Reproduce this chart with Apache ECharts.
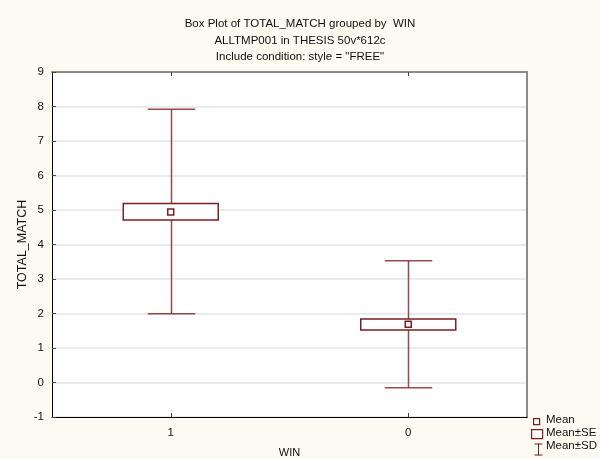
<!DOCTYPE html>
<html>
<head>
<meta charset="utf-8">
<script src="https://cdn.jsdelivr.net/npm/echarts@6/dist/echarts.min.js"></script>
<style>
  html, body { margin: 0; padding: 0; background: #fdfaf1; }
  #chart { width: 600px; height: 459px; }
</style>
</head>
<body>
<div id="chart"></div>
<script>
// Groups of WIN and the summary statistics of TOTAL_MATCH per group
const categories = ['1', '0'];
const means   = [4.94, 1.69];
const seLow   = [4.71, 1.52];
const seHigh  = [5.19, 1.84];
const sdLow   = [1.99, -0.15];
const sdHigh  = [7.92, 3.53];
const yTicks  = [-1, 0, 1, 2, 3, 4, 5, 6, 7, 8, 9];

const MAROON = '#7a1f22';
const FONT = 'Liberation Sans, Arial, sans-serif';

const chart = echarts.init(document.getElementById('chart'), null, { renderer: 'canvas' });

// Mean±SD whiskers with caps
function renderSD(params, api) {
  const i = api.value(0);
  const lo = api.coord([i, api.value(1)]);
  const hi = api.coord([i, api.value(2)]);
  const band = api.size([1, 0])[0];
  const cap = band * 0.2;
  const x = Math.round(lo[0]) + 0.5;
  return {
    type: 'group',
    children: [
      { type: 'line', shape: { x1: x, y1: hi[1], x2: x, y2: lo[1] },
        style: { stroke: MAROON, lineWidth: 1.5, opacity: 0.8 } },
      { type: 'line', shape: { x1: x - cap / 2, y1: hi[1], x2: x + cap / 2, y2: hi[1] },
        style: { stroke: MAROON, lineWidth: 1.5, opacity: 0.8 } },
      { type: 'line', shape: { x1: x - cap / 2, y1: lo[1], x2: x + cap / 2, y2: lo[1] },
        style: { stroke: MAROON, lineWidth: 1.5, opacity: 0.8 } }
    ]
  };
}

// Mean±SE boxes
function renderSE(params, api) {
  const i = api.value(0);
  const lo = api.coord([i, api.value(1)]);
  const hi = api.coord([i, api.value(2)]);
  const band = api.size([1, 0])[0];
  const w = band * 0.4;
  return {
    type: 'rect',
    shape: { x: lo[0] - w / 2, y: hi[1], width: w, height: lo[1] - hi[1] },
    style: { fill: '#ffffff', stroke: MAROON, lineWidth: 1.5 }
  };
}

// Mean markers
function renderMean(params, api) {
  const i = api.value(0);
  const p = api.coord([i, api.value(1)]);
  const s = 6;
  return {
    type: 'rect',
    shape: { x: p[0] - s / 2, y: p[1] - s / 2, width: s, height: s },
    style: { fill: '#ffffff', stroke: MAROON, lineWidth: 1.5 }
  };
}

const grid = { left: 52, right: 73, top: 72, bottom: 42 };

chart.setOption({
  backgroundColor: '#fdfaf1',
  animation: false,
  title: {
    text: 'Box Plot of TOTAL_MATCH grouped by  WIN\nALLTMP001 in THESIS 50v*612c\nInclude condition: style = "FREE"',
    left: 'center',
    top: 11,
    textStyle: { fontFamily: FONT, fontSize: 11.5, fontWeight: 'normal', color: '#111', lineHeight: 16.5 }
  },
  grid: Object.assign({
    backgroundColor: '#ffffff', show: true, borderWidth: 0,
    containLabel: false, outerBoundsMode: 'none'
  }, grid),
  xAxis: [{
    type: 'category',
    data: categories,
    position: 'bottom',
    name: 'WIN',
    nameLocation: 'middle',
    nameGap: 30,
    nameMoveOverlap: false,
    nameTextStyle: { fontFamily: FONT, fontSize: 11, color: '#111' },
    axisLine: { show: true, onZero: false, lineStyle: { color: '#000', width: 1 } },
    axisTick: { show: true, inside: true, alignWithLabel: true, length: 4, lineStyle: { color: '#444' } },
    axisLabel: { fontFamily: FONT, fontSize: 11.5, color: '#111', margin: 10 },
    splitLine: { show: false }
  }, {
    type: 'category',
    data: categories,
    position: 'top',
    axisLine: { show: true, onZero: false, lineStyle: { color: '#8a8a8a', width: 2 } },
    axisTick: { show: true, inside: true, alignWithLabel: true, length: 4, lineStyle: { color: '#444' } },
    axisLabel: { show: false }
  }],
  yAxis: [{
    type: 'value',
    min: yTicks[0],
    max: yTicks[yTicks.length - 1],
    interval: 1,
    name: 'TOTAL_MATCH',
    nameLocation: 'middle',
    nameGap: 23,
    nameMoveOverlap: false,
    nameTextStyle: { fontFamily: FONT, fontSize: 12.5, color: '#111' },
    axisLine: { show: true, onZero: false, lineStyle: { color: '#000', width: 1 } },
    axisTick: { show: true, inside: true, length: 4, lineStyle: { color: '#444' } },
    axisLabel: { fontFamily: FONT, fontSize: 11.5, color: '#111', margin: 8 },
    splitLine: { show: true, lineStyle: { color: '#e4e4e4', width: 1.5 } }
  }, {
    type: 'value',
    min: yTicks[0],
    max: yTicks[yTicks.length - 1],
    interval: 1,
    position: 'right',
    axisLine: { show: true, onZero: false, lineStyle: { color: '#8a8a8a', width: 2 } },
    axisTick: { show: false },
    axisLabel: { show: false },
    splitLine: { show: false }
  }],
  series: [{
    name: 'Mean±SD',
    type: 'custom',
    renderItem: renderSD,
    encode: { x: 0, y: [1, 2] },
    data: categories.map((c, i) => [i, sdLow[i], sdHigh[i]]),
    z: 1
  }, {
    name: 'Mean±SE',
    type: 'custom',
    renderItem: renderSE,
    encode: { x: 0, y: [1, 2] },
    data: categories.map((c, i) => [i, seLow[i], seHigh[i]]),
    z: 2
  }, {
    name: 'Mean',
    type: 'custom',
    renderItem: renderMean,
    encode: { x: 0, y: 1 },
    data: categories.map((c, i) => [i, means[i]]),
    z: 3
  }],
  graphic: [
    // legend keys in the lower right corner
    { type: 'rect', left: 533, top: 418, shape: { width: 6, height: 6 },
      style: { fill: '#fff', stroke: MAROON, lineWidth: 1.2 } },
    { type: 'text', left: 546, top: 414,
      style: { text: 'Mean', fontFamily: FONT, fontSize: 11.5, fill: '#111' } },
    { type: 'rect', left: 531, top: 429, shape: { width: 11, height: 9 },
      style: { fill: '#fff', stroke: MAROON, lineWidth: 1.2 } },
    { type: 'text', left: 546, top: 427,
      style: { text: 'Mean±SE', fontFamily: FONT, fontSize: 11.5, fill: '#111' } },
    { type: 'group', left: 532, top: 441, children: [
      { type: 'line', shape: { x1: 0, y1: 0.5, x2: 8, y2: 0.5 }, style: { stroke: MAROON, lineWidth: 1 } },
      { type: 'line', shape: { x1: 4, y1: 0, x2: 4, y2: 12 }, style: { stroke: MAROON, lineWidth: 1 } },
      { type: 'line', shape: { x1: 0, y1: 11.5, x2: 8, y2: 11.5 }, style: { stroke: MAROON, lineWidth: 1 } }
    ] },
    { type: 'text', left: 546, top: 440,
      style: { text: 'Mean±SD', fontFamily: FONT, fontSize: 11.5, fill: '#111' } }
  ]
});
</script>
</body>
</html>
